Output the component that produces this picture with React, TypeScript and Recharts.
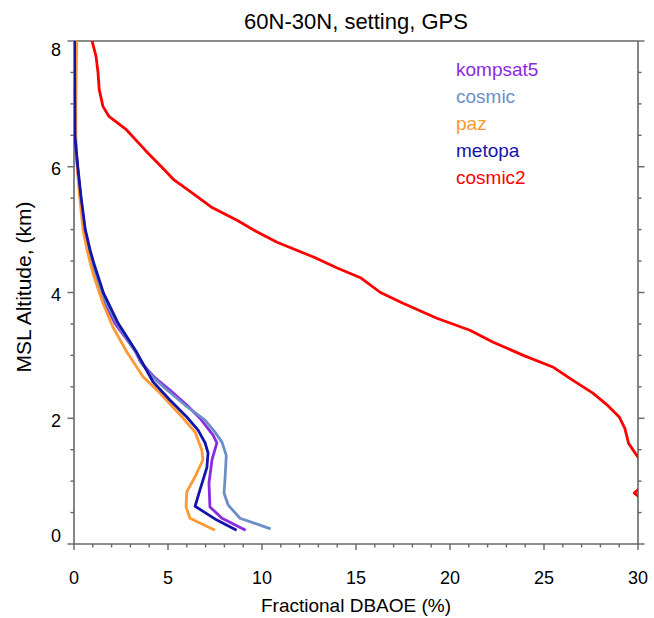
import { ScatterChart, Scatter, XAxis, YAxis, Legend } from "recharts";

const FONT = '"Liberation Sans", Arial, Helvetica, sans-serif';
const AXIS_COLOR = "#666666";
const TITLE = "60N-30N, setting, GPS";
const X_TITLE = "Fractional DBAOE (%)";
const Y_TITLE = "MSL Altitude, (km)";

// tick positions (minor every 1 % / 0.5 km, labelled ones below)
const PCT_TICKS = [
  0, 1, 2, 3, 4, 5, 6, 7, 8, 9, 10, 11, 12, 13, 14, 15, 16, 17, 18, 19, 20,
  21, 22, 23, 24, 25, 26, 27, 28, 29, 30,
];
const PCT_LABELS = [0, 5, 10, 15, 20, 25, 30];
const ALT_TICKS = [
  0, 0.5, 1, 1.5, 2, 2.5, 3, 3.5, 4, 4.5, 5, 5.5, 6, 6.5, 7, 7.5, 8,
];
const ALT_LABELS = [0, 2, 4, 6, 8];

// profiles: altitude (km) vs fractional DBAOE (%)
const kompsat5 = [
  { alt: 8.0, pct: 0.03 }, { alt: 6.5, pct: 0.05 }, { alt: 6.0, pct: 0.18 },
  { alt: 5.5, pct: 0.35 }, { alt: 5.0, pct: 0.56 }, { alt: 4.47, pct: 0.97 },
  { alt: 3.99, pct: 1.38 }, { alt: 3.51, pct: 2.18 }, { alt: 3.08, pct: 3.24 },
  { alt: 2.89, pct: 3.55 }, { alt: 2.66, pct: 4.25 }, { alt: 2.45, pct: 5.1 },
  { alt: 2.21, pct: 6.0 }, { alt: 2.0, pct: 6.7 }, { alt: 1.73, pct: 7.4 },
  { alt: 1.61, pct: 7.6 }, { alt: 1.34, pct: 7.34 }, { alt: 0.97, pct: 7.18 },
  { alt: 0.59, pct: 7.23 }, { alt: 0.41, pct: 7.87 }, { alt: 0.22, pct: 9.13 },
];
const cosmic = [
  { alt: 8.0, pct: 0.03 }, { alt: 6.5, pct: 0.05 }, { alt: 6.0, pct: 0.19 },
  { alt: 5.5, pct: 0.36 }, { alt: 5.0, pct: 0.58 }, { alt: 4.47, pct: 1.0 },
  { alt: 3.99, pct: 1.45 }, { alt: 3.51, pct: 2.28 }, { alt: 3.04, pct: 3.3 },
  { alt: 2.85, pct: 3.65 }, { alt: 2.65, pct: 4.2 }, { alt: 2.45, pct: 4.95 },
  { alt: 2.21, pct: 5.9 }, { alt: 1.97, pct: 6.97 }, { alt: 1.78, pct: 7.5 },
  { alt: 1.62, pct: 7.87 }, { alt: 1.41, pct: 8.1 }, { alt: 1.02, pct: 8.03 },
  { alt: 0.81, pct: 7.98 }, { alt: 0.62, pct: 8.2 }, { alt: 0.41, pct: 8.83 },
  { alt: 0.24, pct: 10.46 },
];
const paz = [
  { alt: 8.0, pct: 0.15 }, { alt: 7.5, pct: 0.12 }, { alt: 7.0, pct: 0.1 },
  { alt: 6.5, pct: 0.1 }, { alt: 6.0, pct: 0.17 }, { alt: 5.53, pct: 0.3 },
  { alt: 5.0, pct: 0.48 }, { alt: 4.67, pct: 0.7 }, { alt: 4.31, pct: 1.0 },
  { alt: 3.83, pct: 1.54 }, { alt: 3.45, pct: 2.07 }, { alt: 3.05, pct: 2.82 },
  { alt: 2.66, pct: 3.67 }, { alt: 2.4, pct: 4.57 }, { alt: 2.02, pct: 5.75 },
  { alt: 1.78, pct: 6.44 }, { alt: 1.49, pct: 6.8 }, { alt: 1.34, pct: 6.86 },
  { alt: 1.07, pct: 6.44 }, { alt: 0.83, pct: 6.0 }, { alt: 0.59, pct: 5.96 },
  { alt: 0.41, pct: 6.17 }, { alt: 0.22, pct: 7.5 },
];
const metopa = [
  { alt: 8.0, pct: 0.03 }, { alt: 6.49, pct: 0.05 }, { alt: 6.0, pct: 0.2 },
  { alt: 5.53, pct: 0.37 }, { alt: 5.0, pct: 0.6 }, { alt: 4.67, pct: 0.86 },
  { alt: 4.47, pct: 1.05 }, { alt: 3.99, pct: 1.57 }, { alt: 3.51, pct: 2.35 },
  { alt: 3.04, pct: 3.35 }, { alt: 2.58, pct: 4.2 }, { alt: 2.29, pct: 5.1 },
  { alt: 2.02, pct: 6.0 }, { alt: 1.81, pct: 6.6 }, { alt: 1.61, pct: 6.97 },
  { alt: 1.45, pct: 7.13 }, { alt: 1.22, pct: 7.07 }, { alt: 0.86, pct: 6.7 },
  { alt: 0.6, pct: 6.44 }, { alt: 0.38, pct: 7.6 }, { alt: 0.22, pct: 8.65 },
];
const cosmic2 = [
  { alt: 8.0, pct: 0.96 }, { alt: 7.76, pct: 1.17 }, { alt: 7.49, pct: 1.28 },
  { alt: 7.23, pct: 1.34 }, { alt: 6.96, pct: 1.54 }, { alt: 6.8, pct: 1.86 },
  { alt: 6.6, pct: 2.75 }, { alt: 6.26, pct: 3.8 }, { alt: 6.0, pct: 4.65 },
  { alt: 5.79, pct: 5.32 }, { alt: 5.58, pct: 6.3 }, { alt: 5.36, pct: 7.29 },
  { alt: 5.15, pct: 8.67 }, { alt: 4.97, pct: 9.7 }, { alt: 4.8, pct: 10.8 },
  { alt: 4.56, pct: 12.77 }, { alt: 4.39, pct: 14.0 }, { alt: 4.23, pct: 15.27 },
  { alt: 4.0, pct: 16.3 }, { alt: 3.83, pct: 17.5 }, { alt: 3.59, pct: 19.3 },
  { alt: 3.4, pct: 21.06 }, { alt: 3.21, pct: 22.3 }, { alt: 3.0, pct: 23.9 },
  { alt: 2.81, pct: 25.5 }, { alt: 2.61, pct: 26.5 }, { alt: 2.4, pct: 27.6 },
  { alt: 2.2, pct: 28.4 }, { alt: 2.02, pct: 29.0 }, { alt: 1.84, pct: 29.3 },
  { alt: 1.6, pct: 29.5 }, { alt: 1.38, pct: 30.0 }, { alt: 1.2, pct: 30.6 },
  { alt: 1.0, pct: 30.5 }, { alt: 0.81, pct: 29.8 }, { alt: 0.62, pct: 30.6 },
];

const SERIES = [
  { name: "kompsat5", color: "#8a2be2", data: kompsat5 },
  { name: "cosmic", color: "#6c8ec8", data: cosmic },
  { name: "paz", color: "#ff9933", data: paz },
  { name: "metopa", color: "#1414a8", data: metopa },
  { name: "cosmic2", color: "#ff0000", data: cosmic2 },
];

const noDot = () => <g />;

function BottomTick(props: any) {
  const { x, y, payload } = props;
  const v = payload.value;
  const major = PCT_LABELS.includes(v);
  return (
    <g>
      <line x1={x} x2={x} y1={y} y2={y + (major ? 6 : 3.5)} stroke={AXIS_COLOR} strokeWidth={1.4} />
      {major && (
        <text x={x} y={y + 39.5} textAnchor="middle" fontSize={18} fontFamily={FONT} fill="#000">
          {v}
        </text>
      )}
    </g>
  );
}

function TopTick(props: any) {
  const { x, y, payload } = props;
  const major = PCT_LABELS.includes(payload.value);
  return <line x1={x} x2={x} y1={y} y2={y - (major ? 6 : 3.5)} stroke={AXIS_COLOR} strokeWidth={1.4} />;
}

function LeftTick(props: any) {
  const { x, y, payload } = props;
  const v = payload.value;
  const major = ALT_LABELS.includes(v);
  // end labels sit pulled inward, as in the original
  const dy = v === 8 ? 15.3 : v === 0 ? -1.6 : 8.3;
  return (
    <g>
      <line x1={x} x2={x - (major ? 6.5 : 3.5)} y1={y} y2={y} stroke={AXIS_COLOR} strokeWidth={1.4} />
      {major && (
        <text x={x - 13} y={y + dy} textAnchor="end" fontSize={18} fontFamily={FONT} fill="#000">
          {v}
        </text>
      )}
    </g>
  );
}

function RightTick(props: any) {
  const { x, y, payload } = props;
  const major = ALT_LABELS.includes(payload.value);
  return <line x1={x} x2={x + (major ? 6.5 : 3.5)} y1={y} y2={y} stroke={AXIS_COLOR} strokeWidth={1.4} />;
}

function TitleLabel(props: any) {
  const vb = props.viewBox;
  return (
    <text x={vb.x + vb.width / 2} y={29.3} textAnchor="middle" fontSize={22} fontFamily={FONT} fill="#000">
      {TITLE}
    </text>
  );
}

function XTitle(props: any) {
  const vb = props.viewBox;
  return (
    <text x={vb.x + vb.width / 2} y={612} textAnchor="middle" fontSize={19} fontFamily={FONT} fill="#000">
      {X_TITLE}
    </text>
  );
}

function YTitle() {
  return (
    <text
      x={30.5}
      y={287}
      transform="rotate(-90, 30.5, 287)"
      textAnchor="middle"
      fontSize={21}
      fontFamily={FONT}
      fill="#000"
    >
      {Y_TITLE}
    </text>
  );
}

function LegendBox() {
  return (
    <div style={{ fontFamily: FONT, fontSize: 19, lineHeight: "27.2px" }}>
      {SERIES.map((s) => (
        <div key={s.name} style={{ color: s.color, whiteSpace: "nowrap" }}>
          {s.name}
        </div>
      ))}
    </div>
  );
}

const axisLine = { stroke: AXIS_COLOR, strokeWidth: 1.6 };

export default function App() {
  return (
    <div style={{ position: "absolute", left: 0, top: 0, width: 654, height: 618, background: "#fff", fontFamily: FONT }}>
      <ScatterChart width={654} height={618} margin={{ top: 0, right: 0, bottom: 0, left: 0 }}>
        <XAxis
          xAxisId="b"
          type="number"
          dataKey="pct"
          orientation="bottom"
          domain={[0, 30]}
          ticks={PCT_TICKS}
          interval={0}
          allowDataOverflow
          height={74}
          tickSize={0}
          tickMargin={0}
          tickLine={false}
          axisLine={axisLine}
          tick={(p: any) => <BottomTick {...p} />}
          label={<XTitle />}
        />
        <XAxis
          xAxisId="t"
          type="number"
          orientation="top"
          domain={[0, 30]}
          ticks={PCT_TICKS}
          interval={0}
          allowDataOverflow
          height={41}
          tickSize={0}
          tickMargin={0}
          tickLine={false}
          axisLine={axisLine}
          tick={(p: any) => <TopTick {...p} />}
          label={<TitleLabel />}
        />
        <YAxis
          yAxisId="l"
          type="number"
          dataKey="alt"
          orientation="left"
          domain={[0, 8]}
          ticks={ALT_TICKS}
          interval={0}
          allowDataOverflow
          width={74}
          tickSize={0}
          tickMargin={0}
          tickLine={false}
          axisLine={axisLine}
          tick={(p: any) => <LeftTick {...p} />}
          label={<YTitle />}
        />
        <YAxis
          yAxisId="r"
          type="number"
          orientation="right"
          domain={[0, 8]}
          ticks={ALT_TICKS}
          interval={0}
          allowDataOverflow
          width={16}
          tickSize={0}
          tickMargin={0}
          tickLine={false}
          axisLine={axisLine}
          tick={(p: any) => <RightTick {...p} />}
        />
        {SERIES.map((s) => (
          <Scatter
            key={s.name}
            name={s.name}
            data={s.data}
            xAxisId="b"
            yAxisId="l"
            fill={s.color}
            line={{ stroke: s.color, strokeWidth: 2.8, strokeLinejoin: "round" }}
            lineJointType="linear"
            shape={noDot}
            isAnimationActive={false}
          />
        ))}
        <Legend
          layout="vertical"
          align="center"
          verticalAlign="middle"
          wrapperStyle={{ left: 456, top: 55.5, width: "auto", height: "auto" }}
          content={() => <LegendBox />}
        />
      </ScatterChart>
    </div>
  );
}
